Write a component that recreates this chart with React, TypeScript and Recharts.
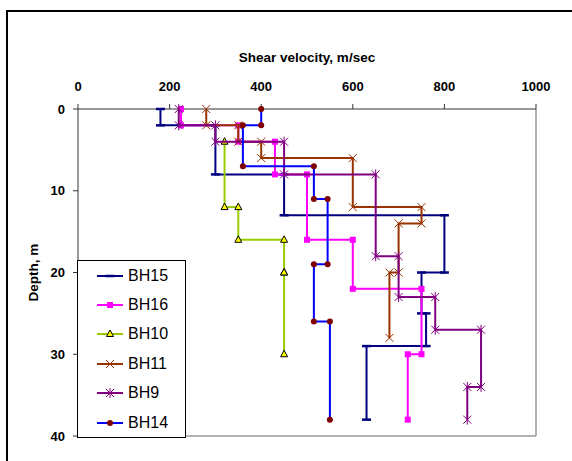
import React from 'react';
import { Legend, ReferenceLine, Scatter, ScatterChart, XAxis, YAxis } from 'recharts';

// layer boundaries (m) and shear velocity of each layer (m/sec)
const bh15Depths = [0, 2, 8, 13, 20, 25, 29, 38];
const bh15Velocities = [180, 300, 450, 800, 750, 760, 630];

const bh16Depths = [0, 2, 4, 8, 16, 22, 30, 38];
const bh16Velocities = [225, 350, 430, 500, 600, 750, 720];

const bh10Depths = [4, 12, 16, 20, 30];
const bh10Velocities = [320, 350, 450, 450];

const bh11Depths = [0, 2, 4, 6, 12, 14, 20, 28];
const bh11Velocities = [280, 350, 400, 600, 750, 700, 680];

const bh9Depths = [0, 2, 4, 8, 18, 23, 27, 34, 38];
const bh9Velocities = [220, 300, 450, 650, 700, 780, 880, 850];

const bh14Depths = [0, 2, 7, 11, 19, 26, 38];
const bh14Velocities = [400, 360, 515, 545, 515, 550];

const velocityTicks = [0, 200, 400, 600, 800, 1000];
const depthTicks = [0, 10, 20, 30, 40];

const font = '"Liberation Sans", Arial, sans-serif';

type Pt = { v: number; d: number };

// each layer gives two points: top and bottom of the layer at its velocity
function stepProfile(depths: number[], velocities: number[]): Pt[] {
  const pts: Pt[] = [];
  velocities.forEach((v, i) => {
    pts.push({ v, d: depths[i] });
    pts.push({ v, d: depths[i + 1] });
  });
  return pts;
}

type MarkerKind = 'dash' | 'square' | 'triangle' | 'x' | 'star' | 'circle';

function Marker({ kind, cx, cy, color }: { kind: MarkerKind; cx: number; cy: number; color: string }) {
  switch (kind) {
    case 'dash':
      return <line x1={cx - 4.5} y1={cy} x2={cx + 4.5} y2={cy} stroke={color} strokeWidth={2.5} />;
    case 'square':
      return <rect x={cx - 3} y={cy - 3} width={6} height={6} fill={color} />;
    case 'triangle':
      return (
        <polygon
          points={`${cx},${cy - 4} ${cx - 3.5},${cy + 2.5} ${cx + 3.5},${cy + 2.5}`}
          fill="#ffff00"
          stroke="#000"
          strokeWidth={1}
        />
      );
    case 'x':
      return (
        <g stroke={color} strokeWidth={1}>
          <line x1={cx - 4} y1={cy - 4} x2={cx + 4} y2={cy + 4} />
          <line x1={cx - 4} y1={cy + 4} x2={cx + 4} y2={cy - 4} />
        </g>
      );
    case 'star':
      return (
        <g stroke={color} strokeWidth={1}>
          <line x1={cx - 4} y1={cy - 4} x2={cx + 4} y2={cy + 4} />
          <line x1={cx - 4} y1={cy + 4} x2={cx + 4} y2={cy - 4} />
          <line x1={cx} y1={cy - 5} x2={cx} y2={cy + 5} />
        </g>
      );
    default:
      return <circle cx={cx} cy={cy} r={3} fill="#800000" />;
  }
}

const series = [
  { name: 'BH15', data: stepProfile(bh15Depths, bh15Velocities), color: '#000080', marker: 'dash' as MarkerKind },
  { name: 'BH16', data: stepProfile(bh16Depths, bh16Velocities), color: '#ff00ff', marker: 'square' as MarkerKind },
  { name: 'BH10', data: stepProfile(bh10Depths, bh10Velocities), color: '#99cc00', marker: 'triangle' as MarkerKind },
  { name: 'BH11', data: stepProfile(bh11Depths, bh11Velocities), color: '#993300', marker: 'x' as MarkerKind },
  { name: 'BH9', data: stepProfile(bh9Depths, bh9Velocities), color: '#800080', marker: 'star' as MarkerKind },
  { name: 'BH14', data: stepProfile(bh14Depths, bh14Velocities), color: '#0000ff', marker: 'circle' as MarkerKind },
];

const tickStyle = { fill: '#000', fontSize: 13, fontWeight: 'bold', fontFamily: font };

function LegendBox() {
  return (
    <div
      style={{
        background: '#fff',
        border: '1px solid #000',
        width: 107,
        fontFamily: font,
        fontSize: 16,
        color: '#000',
      }}
    >
      {series.map((s) => (
        <div key={s.name} style={{ height: 29.4, display: 'flex', alignItems: 'center' }}>
          <svg width={28} height={12} style={{ marginLeft: 18, display: 'block' }}>
            <line x1={1} y1={6} x2={27} y2={6} stroke={s.color} strokeWidth={2} />
            <Marker kind={s.marker} cx={14} cy={6} color={s.color} />
          </svg>
          <span style={{ marginLeft: 4, lineHeight: '16px' }}>{s.name}</span>
        </div>
      ))}
    </div>
  );
}

export default function App() {
  return (
    <div style={{ position: 'absolute', left: 0, top: 0, width: 572, height: 461, overflow: 'hidden', background: '#fff' }}>
      <div
        style={{
          position: 'absolute',
          left: 6,
          top: 10,
          width: 620,
          height: 520,
          border: '2px solid #000',
          boxSizing: 'border-box',
        }}
      />
      <div style={{ position: 'absolute', left: 0, top: 0 }}>
        <ScatterChart width={572} height={461} margin={{ top: 69, right: 36, bottom: 25, left: 18 }}>
          <XAxis
            type="number"
            dataKey="v"
            orientation="top"
            domain={[0, 1000]}
            ticks={velocityTicks}
            height={40}
            tickSize={5}
            tickMargin={13}
            axisLine={{ stroke: '#333' }}
            tickLine={{ stroke: '#333' }}
            tick={tickStyle}
            label={{
              value: 'Shear velocity, m/sec',
              position: 'top',
              offset: 7,
              fill: '#000',
              fontSize: 13.5,
              fontWeight: 'bold',
              fontFamily: font,
            }}
          />
          <YAxis
            type="number"
            dataKey="d"
            reversed
            domain={[0, 40]}
            ticks={depthTicks}
            width={60}
            tickSize={5}
            tickMargin={8}
            axisLine={{ stroke: '#333' }}
            tickLine={{ stroke: '#333' }}
            tick={tickStyle}
            label={{
              value: 'Depth, m',
              angle: -90,
              position: 'insideLeft',
              offset: 15,
              textAnchor: 'middle',
              fill: '#000',
              fontSize: 13.5,
              fontWeight: 'bold',
              fontFamily: font,
            }}
          />
          <ReferenceLine x={1000} stroke="#999" strokeWidth={1.5} />
          <ReferenceLine y={40} stroke="#999" strokeWidth={1.5} />
          {series.map((s) => (
            <Scatter
              key={s.name}
              name={s.name}
              data={s.data}
              fill={s.color}
              line={{ stroke: s.color, strokeWidth: 2 }}
              lineType="joint"
              isAnimationActive={false}
              shape={(p: any) => <Marker kind={s.marker} cx={p.cx} cy={p.cy} color={s.color} />}
            />
          ))}
          <Legend
            layout="vertical"
            align="center"
            verticalAlign="middle"
            wrapperStyle={{ left: 77, top: 260, width: 109, height: 178 }}
            content={() => <LegendBox />}
          />
        </ScatterChart>
      </div>
    </div>
  );
}
